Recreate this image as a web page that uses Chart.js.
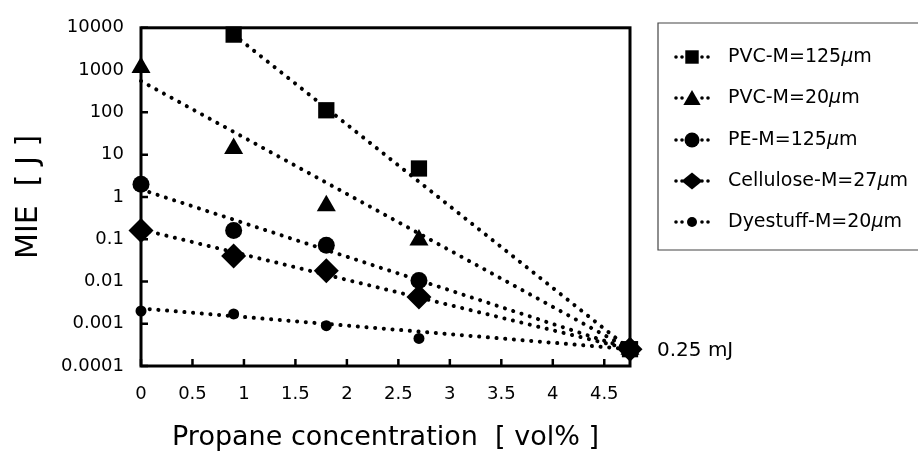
<!DOCTYPE html>
<html><head><meta charset="utf-8">
<script src="https://cdn.jsdelivr.net/npm/chart.js@4.4.0/dist/chart.umd.min.js"></script>
<style>html,body{margin:0;padding:0;background:#fff;}#wrap{width:918px;height:459px;position:relative;}</style>
</head><body><div id="wrap"><canvas id="c" width="918" height="459"></canvas></div>
<script>
// ---- data ----
const concentrations = [0, 0.9, 1.8, 2.7];
const pvc125    = [null, 6900, 112, 4.7];
const pvc20     = [1150, 14, 0.62, 0.095];
const pe125     = [2.0, 0.16, 0.072, 0.0105];
const cellulose = [0.16, 0.04, 0.018, 0.0043];
const dyestuff  = [0.002, 0.0017, 0.0009, 0.00045];
const seriesNames = ['PVC-M=125µm', 'PVC-M=20µm', 'PE-M=125µm', 'Cellulose-M=27µm', 'Dyestuff-M=20µm'];
const limitX = 4.75;
const limitY = 0.00025;
const limitLabel = '0.25 mJ';
const fitStartX = [0.9, 0, 0, 0, 0];
const fitStartY = [6900, 550, 1.5, 0.17, 0.0023];
const xTicks = [0, 0.5, 1, 1.5, 2, 2.5, 3, 3.5, 4, 4.5];
const xTickLabels = ['0', '0.5', '1', '1.5', '2', '2.5', '3', '3.5', '4', '4.5'];
const yTicks = [0.0001, 0.001, 0.01, 0.1, 1, 10, 100, 1000, 10000];
const yTickLabels = ['0.0001', '0.001', '0.01', '0.1', '1', '10', '100', '1000', '10000'];
const xTitle = 'Propane concentration  [ vol% ]';
const yTitle = 'MIE  [ J ]';

// ---- styling ----
const FONT = '"DejaVu Sans", sans-serif';
const allValues = [pvc125, pvc20, pe125, cellulose, dyestuff];
const styles = ['rect', 'triangle', 'circle', 'rectRot', 'circle'];
const radii = [11.5, 11, 8.5, 12.5, 5.5];
const legendRadii = [9.5, 10, 7.5, 10.5, 5];

const datasets = [];
allValues.forEach((vals, i) => {
  datasets.push({
    label: seriesNames[i] + ' fit',
    data: [{x: fitStartX[i], y: fitStartY[i]}, {x: limitX, y: limitY}],
    showLine: true, pointRadius: 0, borderColor: '#000', borderWidth: 4,
    borderDash: [0.1, 8.6], borderCapStyle: 'round', fill: false, clip: false, order: 2
  });
  const pts = [];
  concentrations.forEach((c, j) => { if (vals[j] !== null) pts.push({x: c, y: vals[j]}); });
  pts.push({x: limitX, y: limitY});
  datasets.push({
    label: seriesNames[i],
    data: pts, showLine: false, pointStyle: styles[i], pointRadius: radii[i],
    pointBackgroundColor: '#000', pointBorderColor: '#000', pointBorderWidth: 0,
    clip: false, order: 1
  });
});

function drawMarker(ctx, style, x, y, r) {
  ctx.beginPath();
  if (style === 'rect') {
    const s = Math.SQRT1_2 * r;
    ctx.rect(x - s, y - s, 2 * s, 2 * s);
  } else if (style === 'triangle') {
    for (let k = 0; k < 3; k++) {
      const a = -Math.PI / 2 + k * 2 * Math.PI / 3;
      const px = x + Math.cos(a) * r, py = y + Math.sin(a) * r;
      k === 0 ? ctx.moveTo(px, py) : ctx.lineTo(px, py);
    }
    ctx.closePath();
  } else if (style === 'rectRot') {
    ctx.moveTo(x - r, y); ctx.lineTo(x, y - r * 0.8); ctx.lineTo(x + r, y); ctx.lineTo(x, y + r * 0.8);
    ctx.closePath();
  } else {
    ctx.arc(x, y, r, 0, Math.PI * 2);
  }
  ctx.fill();
}

const framePlugin = {
  id: 'frame',
  beforeDatasetsDraw(chart) {
    const {ctx, chartArea: a, scales} = chart;
    ctx.save();
    ctx.strokeStyle = '#000'; ctx.lineWidth = 3;
    ctx.strokeRect(a.left, a.top, a.right - a.left, a.bottom - a.top);
    ctx.lineWidth = 2.5;
    ctx.beginPath();
    yTicks.forEach(v => { const y = scales.y.getPixelForValue(v); ctx.moveTo(a.left, y); ctx.lineTo(a.left + 7, y); });
    xTicks.forEach(v => { const x = scales.x.getPixelForValue(v); ctx.moveTo(x, a.bottom); ctx.lineTo(x, a.bottom - 7); });
    ctx.stroke();
    ctx.restore();
  },
  afterDraw(chart) {
    const {ctx, scales} = chart;
    ctx.save();
    ctx.fillStyle = '#000';
    ctx.font = '20px ' + FONT;
    ctx.textBaseline = 'middle'; ctx.textAlign = 'left';
    ctx.fillText(limitLabel, scales.x.getPixelForValue(limitX) + 27, scales.y.getPixelForValue(limitY) + 2);
    // legend
    const bx = 658, by = 23, bh = 227;
    ctx.strokeStyle = '#444'; ctx.lineWidth = 1.2;
    ctx.beginPath();
    ctx.moveTo(930, by); ctx.lineTo(bx, by); ctx.lineTo(bx, by + bh); ctx.lineTo(930, by + bh);
    ctx.stroke();
    const rowY = [57, 98, 140, 181, 222];
    const mx = 692, tx = 728;
    seriesNames.forEach((name, i) => {
      const y = rowY[i];
      [-16, -10, 10, 16].forEach(dx => { ctx.beginPath(); ctx.arc(mx + dx, y, 1.8, 0, Math.PI * 2); ctx.fill(); });
      drawMarker(ctx, styles[i], mx, y + (styles[i] === 'triangle' ? 2 : 0), legendRadii[i]);
      const idx = name.indexOf('µ');
      const pre = name.slice(0, idx), post = name.slice(idx + 1);
      ctx.font = '19px ' + FONT;
      ctx.fillText(pre, tx, y);
      let w = ctx.measureText(pre).width;
      ctx.font = 'italic 19px ' + FONT;
      ctx.fillText('µ', tx + w, y);
      w += ctx.measureText('µ').width;
      ctx.font = '19px ' + FONT;
      ctx.fillText(post, tx + w, y);
    });
    ctx.restore();
  }
};

new Chart(document.getElementById('c'), {
  type: 'scatter',
  data: {datasets},
  options: {
    responsive: false, animation: false, devicePixelRatio: 1,
    layout: {padding: {left: 0, top: 21, right: 288, bottom: 0}},
    plugins: {legend: {display: false}, tooltip: {enabled: false}},
    scales: {
      x: {
        type: 'linear', min: 0, max: limitX,
        grid: {display: false, drawTicks: false}, border: {display: false},
        afterBuildTicks: s => { s.ticks = xTicks.map(v => ({value: v})); },
        afterFit: s => { s.height = 93; },
        ticks: {color: '#000', font: {family: FONT, size: 18}, padding: 18, maxRotation: 0, autoSkip: false,
          callback: (v, i) => xTickLabels[i]},
        title: {display: true, text: xTitle, color: '#000', font: {family: FONT, size: 27}, padding: {top: 0, bottom: 5}}
      },
      y: {
        type: 'logarithmic', min: yTicks[0], max: yTicks[yTicks.length - 1],
        grid: {display: false, drawTicks: false}, border: {display: false},
        afterBuildTicks: s => { s.ticks = yTicks.map(v => ({value: v})); },
        afterFit: s => { s.width = 141; },
        ticks: {color: '#000', font: {family: FONT, size: 18}, padding: 17, autoSkip: false,
          callback: (v, i) => yTickLabels[i]},
        title: {display: true, text: yTitle, color: '#000', font: {family: FONT, size: 30}, padding: {top: 11, bottom: 0}}
      }
    }
  },
  plugins: [framePlugin]
});
</script></body></html>
